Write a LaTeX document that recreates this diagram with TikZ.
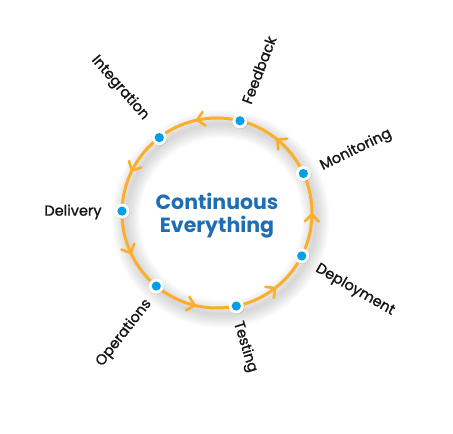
\documentclass[tikz,border=0pt]{standalone}
\usepackage{fontspec}
\setmainfont{Poppins}
\newfontfamily\lblfont{Poppins}[FakeBold=1.2]
\usetikzlibrary{arrows.meta,decorations.markings,calc,shadows}
\definecolor{ringorange}{RGB}{251,174,41}
\definecolor{dotblue}{RGB}{0,160,230}
\definecolor{titleblue}{RGB}{30,110,180}
\begin{document}
\begin{tikzpicture}[x=1pt,y=1pt,
  ring/.style={ringorange, line width=3pt},
  chev/.style={ringorange, line width=2.6pt, line cap=round, line join=miter},
  dotnode/.style={circle, fill=white, minimum size=15pt, inner sep=0pt,
    drop shadow={opacity=0.2, shadow xshift=0.8pt, shadow yshift=-0.8pt},
    path picture={\fill[dotblue] (path picture bounding box.center) circle (4.6pt);}},
  lbl/.style={font=\lblfont\fontsize{14.5}{16}\selectfont, text=black!92, inner sep=1pt},
  titletext/.style={font=\fontsize{20.5}{23}\selectfont\bfseries, text=titleblue, align=center}
]
\useasboundingbox (0,0) rectangle (453,434);
\coordinate (C) at (217,221);
% soft shadow of the ring
\foreach \w in {3,7,11,15,19,23,27}
  \draw[black, opacity=0.022, line width=\w pt] ($(C)+(4,-6)$) circle (95);
% ring with chevrons
\draw[ring, postaction={decorate}, decoration={markings,
  mark=between positions 0.1397 and 0.999 step 0.142857 with {\draw[chev] (-6.5pt,7pt) -- (0.5pt,0pt) -- (-6.5pt,-7pt);}}]
  ($(C)+(0:95)$) arc[start angle=0, end angle=360, radius=95];
% dots
\node[dotnode] (dFeedback)   at ($(C)+(76:95)$) {};
\node[dotnode] (dMonitoring) at ($(C)+(24.57:95)$) {};
\node[dotnode] (dDeployment) at ($(C)+(-26.86:95)$) {};
\node[dotnode] (dTesting)    at ($(C)+(-78.29:95)$) {};
\node[dotnode] (dOperations) at ($(C)+(-129.71:95)$) {};
\node[dotnode] (dDelivery)   at ($(C)+(178.86:95)$) {};
\node[dotnode] (dIntegration) at ($(C)+(127.43:95)$) {};
% labels
\node[lbl, rotate=69]  (Feedback)    at (259,364) {Feedback};
\node[lbl, rotate=26]  (Monitoring)  at (356,284) {Monitoring};
\node[lbl, rotate=-30] (Deployment)  at (355,144) {Deployment};
\node[lbl, rotate=-73] (Testing)     at (245,87)  {Testing};
\node[lbl, rotate=52]  (Operations)  at (124,101) {Operations};
\node[lbl]             (Delivery)    at (73,222)  {Delivery};
\node[lbl, rotate=-49] (Integration) at (120,346) {Integration};
% title
\node[titletext] (title) at ($(C)+(0,-3)$) {Continuous\\Everything};
\end{tikzpicture}
\end{document}
